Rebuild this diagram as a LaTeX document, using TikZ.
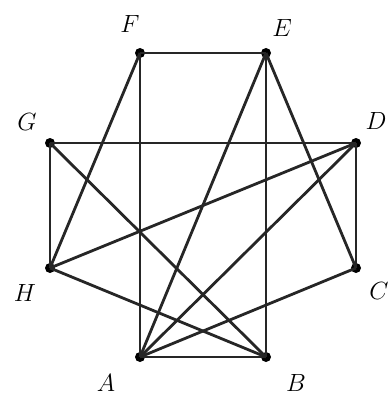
\documentclass[tikz,border=0pt]{standalone}
\begin{document}
\begin{tikzpicture}[x=1pt,y=-1pt,
  vtx/.style={circle,fill=black,inner sep=0pt,minimum size=10pt},
  lbl/.style={font=\fontsize{24}{28}\selectfont\itshape,inner sep=0pt},
  edge/.style={line width=2.8pt,black!85}]
\useasboundingbox (0,0) rectangle (390,396);
\node[vtx] (F) at (140,53) {};
\node[vtx] (E) at (266,53) {};
\node[vtx] (G) at (50,143) {};
\node[vtx] (D) at (356,143) {};
\node[vtx] (H) at (50,268) {};
\node[vtx] (C) at (356,268) {};
\node[vtx] (A) at (140,357) {};
\node[vtx] (B) at (266,357) {};
\node[lbl] (lF) at (130,24) {$F$};
\node[lbl] (lE) at (282,28) {$E$};
\node[lbl] (lG) at (27,122) {$G$};
\node[lbl] (lD) at (376,121) {$D$};
\node[lbl] (lH) at (25,293) {$H$};
\node[lbl] (lC) at (379,291) {$C$};
\node[lbl] (lA) at (106,383) {$A$};
\node[lbl] (lB) at (296,383) {$B$};
\foreach \u/\v in {F/E,F/A,F/H,E/B,E/A,E/C,G/D,G/H,G/B,D/C,D/H,D/A,H/B,C/A,A/B}
  \draw[edge] (\u.center) -- (\v.center);
\end{tikzpicture}
\end{document}
